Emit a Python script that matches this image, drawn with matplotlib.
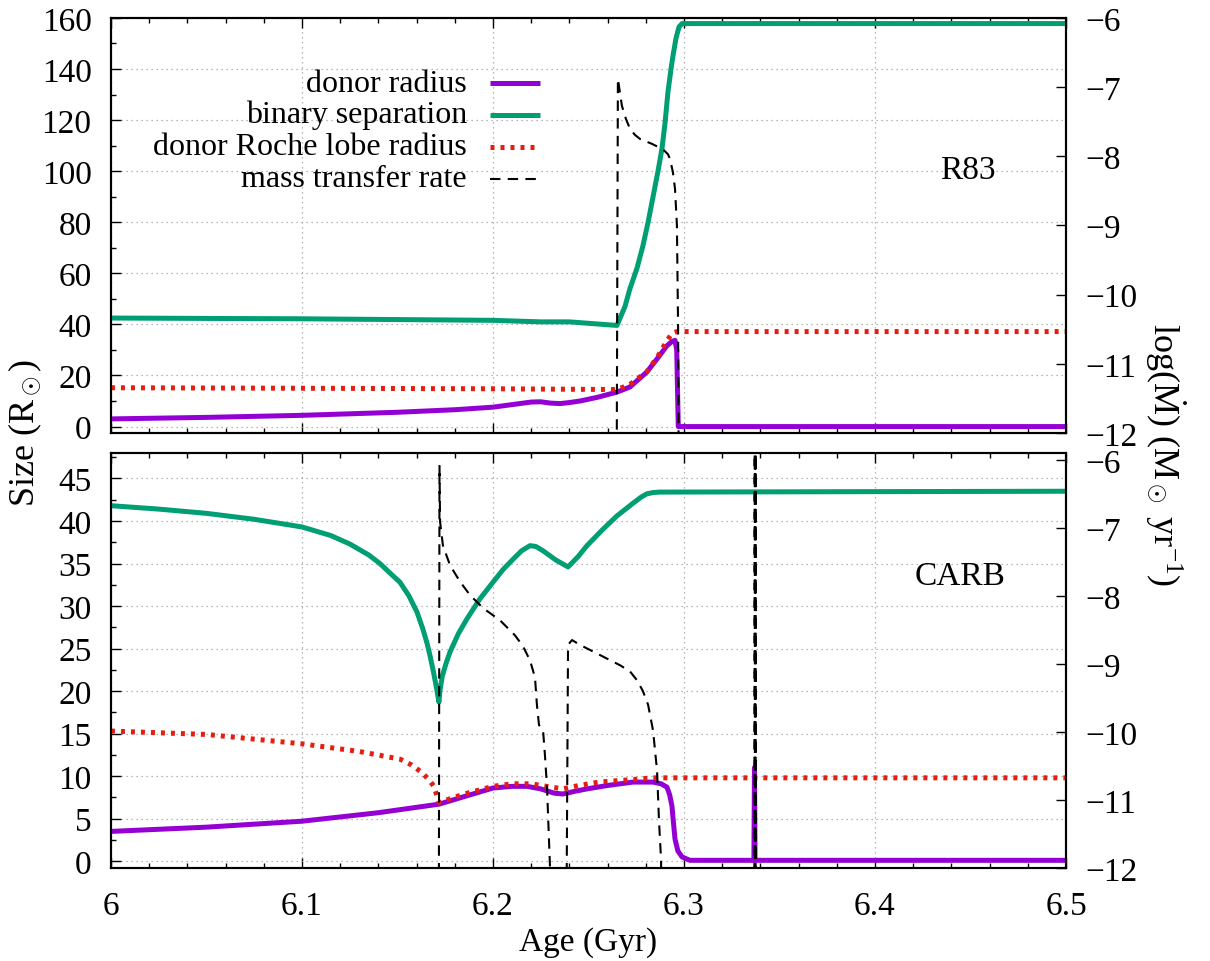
import numpy as np
import matplotlib
matplotlib.use('Agg')
import matplotlib.pyplot as plt
from matplotlib.ticker import MultipleLocator
from matplotlib.lines import Line2D

plt.rcParams['font.family'] = ['Liberation Serif', 'DejaVu Serif']
plt.rcParams['mathtext.fontset'] = 'custom'
plt.rcParams['mathtext.rm'] = 'Liberation Serif'
plt.rcParams['mathtext.it'] = 'Liberation Serif:italic'
plt.rcParams['axes.unicode_minus'] = True

# ---------------- data: R83 (top panel) ----------------
r83_donor_age = [6.0, 6.05, 6.1, 6.15, 6.18, 6.2, 6.21, 6.22, 6.225, 6.23,
                 6.235, 6.24, 6.2455, 6.2549, 6.2649, 6.2717, 6.2806, 6.2859,
                 6.291, 6.2935, 6.2953, 6.2962, 6.2966, 6.297, 6.5]
r83_donor = [3.0, 3.6, 4.4, 5.6, 6.6, 7.6, 8.6, 9.6, 9.7, 9.2,
             9.0, 9.4, 10.0, 11.5, 13.5, 15.5, 21.4, 26.5,
             31.6, 33.2, 33.8, 30.0, 15.0, 0.0, 0.0]

r83_sep_age = [6.0, 6.1, 6.2, 6.225, 6.24, 6.2649, 6.2691, 6.2717, 6.2754,
               6.2785, 6.2812, 6.2838, 6.2864, 6.2885, 6.2901, 6.2916,
               6.2932, 6.2942, 6.2958, 6.2974, 6.299, 6.5]
r83_sep = [42.5, 42.2, 41.6, 41.0, 41.0, 39.6, 47.0, 54.0, 62.0,
           70.8, 80.0, 90.0, 100.0, 109.0, 119.0, 131.0,
           140.0, 145.0, 152.0, 156.5, 157.8, 157.8]

r83_roche_age = [6.0, 6.1, 6.2, 6.265, 6.2717, 6.2806, 6.2859, 6.291,
                 6.2937, 6.2963, 6.5]
r83_roche = [15.2, 15.0, 14.8, 14.5, 16.5, 21.5, 27.0, 33.5,
             36.5, 37.2, 37.2]

r83_mdot_age = [6.2646, 6.2654, 6.2675, 6.2696, 6.2717, 6.2743, 6.277, 6.2832,
                6.289, 6.2916, 6.2927, 6.2942, 6.2953, 6.2963, 6.2969, 6.2975]
r83_mdot = [-14.0, -6.88, -7.27, -7.46, -7.6, -7.69, -7.75, -7.82,
            -7.9, -7.97, -8.04, -8.23, -8.47, -9.0, -10.45, -14.0]

# ---------------- data: CARB (bottom panel) ----------------
carb_donor_age = [6.0, 6.05, 6.1, 6.14, 6.1717, 6.185, 6.2, 6.21, 6.2178,
                  6.225, 6.232, 6.2366, 6.2425, 6.2492, 6.26, 6.2733, 6.2838,
                  6.288, 6.2911, 6.2925, 6.2937, 6.2945, 6.2953, 6.2968,
                  6.299, 6.3031, 6.3366, 6.3369, 6.3372, 6.5]
carb_donor = [3.5, 4.0, 4.7, 5.7, 6.7, 7.6, 8.6, 8.8, 8.8,
              8.5, 8.0, 7.9, 8.2, 8.5, 8.9, 9.3, 9.3,
              9.1, 8.7, 7.8, 6.5, 4.5, 2.6, 1.2,
              0.5, 0.1, 0.1, 11.0, 0.1, 0.1]

carb_sep_age = [6.0, 6.025, 6.05, 6.075, 6.1, 6.115, 6.125, 6.135, 6.1408,
                6.146, 6.1513, 6.156, 6.1602, 6.1633, 6.1655, 6.167, 6.1688,
                6.1705, 6.1717, 6.1722, 6.1735, 6.1755, 6.1775, 6.182, 6.1864,
                6.193, 6.2, 6.2053, 6.2105, 6.215, 6.2194, 6.2225, 6.2262,
                6.233, 6.2393, 6.2445, 6.2492, 6.257, 6.2649, 6.2728, 6.2775,
                6.2806, 6.284, 6.2874, 6.5]
carb_sep = [41.8, 41.4, 40.9, 40.2, 39.3, 38.3, 37.3, 36.0, 35.0,
            33.9, 32.8, 31.2, 29.3, 27.3, 25.6, 24.2, 22.3,
            20.3, 18.7, 20.0, 21.8, 23.3, 24.6, 26.8, 28.5,
            30.8, 32.8, 34.3, 35.5, 36.5, 37.1, 37.0, 36.5,
            35.4, 34.6, 35.8, 37.1, 38.9, 40.6, 42.0, 42.8,
            43.2, 43.35, 43.4, 43.5]

carb_roche_age = [6.0, 6.05, 6.1, 6.13, 6.1513, 6.1575, 6.1623, 6.166, 6.1691,
                  6.1712, 6.1717, 6.185, 6.2, 6.21, 6.2199, 6.228, 6.2366,
                  6.245, 6.2555, 6.2733, 6.2838, 6.5]
carb_roche = [15.3, 14.9, 13.8, 12.9, 12.0, 11.3, 10.5, 9.7, 8.8,
              7.3, 6.9, 7.9, 8.8, 9.1, 9.1, 8.8, 8.5,
              8.9, 9.3, 9.6, 9.8, 9.8]

carb_mdot_age = [6.1716, 6.1720, 6.1723, 6.1738, 6.1775, 6.1827, 6.188,
                 6.1948, 6.2037, 6.2115, 6.2157, 6.2194, 6.222, 6.223,
                 6.2241, 6.2262, 6.2272, 6.2283, 6.2298, 6.2304,
                 np.nan,
                 6.2382, 6.2393, 6.2414, 6.2455, 6.256, 6.2665, 6.2717,
                 6.2754, 6.2785, 6.2812, 6.2838, 6.2859, 6.2869, 6.288, 6.2885,
                 np.nan,
                 6.3368, 6.3370, 6.3372, 6.3373, 6.3374, 6.3375, 6.3376]
carb_mdot = [-14.0, -6.09, -6.91, -7.26, -7.55, -7.79, -7.99,
             -8.18, -8.36, -8.58, -8.74, -8.95, -9.2, -9.6,
             -9.9, -9.97, -10.34, -10.82, -11.95, -14.0,
             np.nan,
             -14.0, -8.72, -8.65, -8.72, -8.87, -9.02, -9.11,
             -9.24, -9.4, -9.6, -9.98, -10.57, -11.3, -11.88, -14.0,
             np.nan,
             -14.0, -5.0, -14.0, -5.0, -14.0, -5.0, -14.0]

xticks = [6.0, 6.1, 6.2, 6.3, 6.4, 6.5]
xtick_labels = ['6', '6.1', '6.2', '6.3', '6.4', '6.5']
legend_labels = ['donor radius', 'binary separation',
                 'donor Roche lobe radius', 'mass transfer rate']

c_donor = '#9400d3'
c_sep = '#009e73'
c_roche = '#e51e10'
fs = 24

fig = plt.figure(figsize=(12.1, 9.62), dpi=100)
ax1 = fig.add_axes([0.0917, 0.5489, 0.7893, 0.4314])
ax2 = fig.add_axes([0.0917, 0.0967, 0.7893, 0.4314])


def style_axes(ax, ymin, ymax, ymajor, yminor, show_x):
    ax.set_xlim(6.0, 6.5)
    ax.set_ylim(ymin, ymax)
    ax.set_xticks(xticks)
    ax.set_xticklabels(xtick_labels if show_x else [])
    ax.xaxis.set_minor_locator(MultipleLocator(0.02))
    ax.yaxis.set_major_locator(MultipleLocator(ymajor))
    ax.yaxis.set_minor_locator(MultipleLocator(yminor))
    ax.tick_params(which='both', direction='in', top=True, right=False,
                   labelsize=fs, width=1.0)
    ax.tick_params(axis='x', which='major', length=7, pad=16)
    ax.tick_params(axis='y', which='major', length=7, pad=14)
    ax.tick_params(which='minor', length=3.5)
    ax.grid(True, which='major', color='#a0a0a0', linestyle=(0, (1, 3)), lw=0.9)
    for s in ax.spines.values():
        s.set_linewidth(1.5)


def style_twin(ax):
    ax.set_yticks([-6, -7, -8, -9, -10, -11, -12])
    ax.tick_params(axis='y', direction='in', length=7, width=1.0, labelsize=fs, pad=14)


def draw_panel(ax, d_age, d, s_age, s, r_age, r, m_age, m, ylim2):
    ax.plot(s_age, s, color=c_sep, lw=3.6, solid_capstyle='butt',
            solid_joinstyle='round', zorder=3)
    ax.plot(d_age, d, color=c_donor, lw=3.6, solid_capstyle='butt',
            solid_joinstyle='round', zorder=4)
    ax.plot(r_age, r, color=c_roche, lw=3.6, dashes=(0.8, 1.2),
            dash_capstyle='butt', zorder=5)
    tw = ax.twinx()
    tw.plot(m_age, m, color='black', lw=1.5, dashes=(5, 3.5), zorder=6)
    tw.set_ylim(*ylim2)
    style_twin(tw)
    for s_ in tw.spines.values():
        s_.set_linewidth(1.5)
    return tw


style_axes(ax1, -2.5, 160, 20, 10, False)
style_axes(ax2, -0.8, 48, 5, 2.5, True)
tw1 = draw_panel(ax1, r83_donor_age, r83_donor, r83_sep_age, r83_sep,
                 r83_roche_age, r83_roche, r83_mdot_age, r83_mdot, (-12, -6))
tw2 = draw_panel(ax2, carb_donor_age, carb_donor, carb_sep_age, carb_sep,
                 carb_roche_age, carb_roche, carb_mdot_age, carb_mdot, (-12, -5.9))

# legend drawn gnuplot-style: right-aligned text, sample to the right
styles = [dict(color=c_donor, lw=3.6, solid_capstyle='butt'),
          dict(color=c_sep, lw=3.6, solid_capstyle='butt'),
          dict(color=c_roche, lw=3.6, dashes=(0.8, 1.2), dash_capstyle='butt'),
          dict(color='black', lw=1.5, dashes=(5, 3.5))]
rows = [0.843, 0.767, 0.690, 0.613]
for lab, st, yy in zip(legend_labels, styles, rows):
    ax1.text(0.3728, yy, lab, transform=ax1.transAxes, ha='right', va='center',
             fontsize=23, zorder=10)
    ax1.add_line(Line2D([0.397, 0.449], [yy, yy], transform=ax1.transAxes,
                        zorder=10, **st))

ax1.text(0.897, 0.635, 'R83', transform=ax1.transAxes, ha='center',
         va='center', fontsize=fs)
ax2.text(0.889, 0.703, 'CARB', transform=ax2.transAxes, ha='center',
         va='center', fontsize=fs)

fig.text(0.021, 0.55, r'Size (R$_\odot$)', rotation=90, ha='center',
         va='center', fontsize=26)
fig.text(0.963, 0.527, r'log($\dot{\mathrm{M}}$) (M$_\odot$ yr$^{-1}$)',
         rotation=-90, ha='center', va='center', fontsize=26)
fig.text(0.486, 0.02, 'Age (Gyr)', ha='center', va='center', fontsize=fs)

fig.savefig('out.png', dpi=100)
